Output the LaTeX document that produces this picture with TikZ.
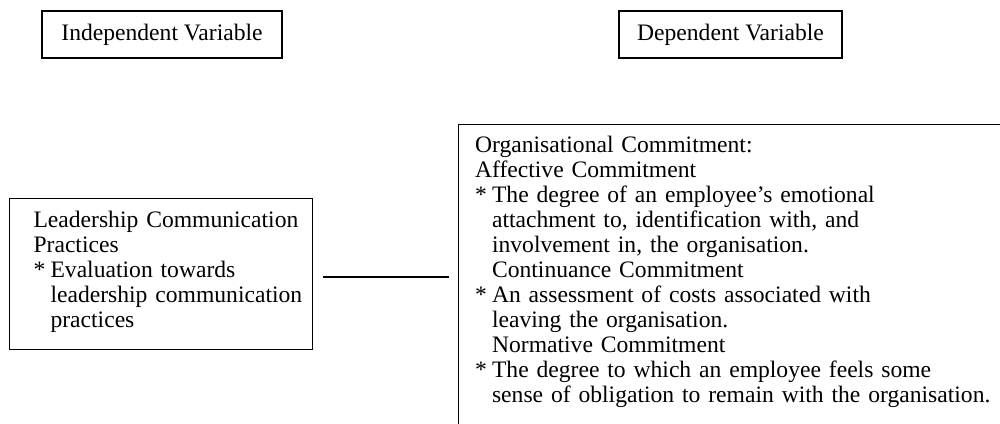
\documentclass[tikz,border=0pt]{standalone}
\usepackage{fontspec}
\setmainfont{Liberation Serif}
\newcommand{\starmark}{\makebox[17pt][l]{*}}
\newcommand{\indmark}{\hspace*{17pt}}
\begin{document}
\begin{tikzpicture}[x=1pt,y=-1pt,
  every node/.style={font=\fontsize{23.6pt}{25pt}\selectfont},
  box/.style={draw, line width=1.1pt},
  textbox/.style={box, anchor=north west, align=left, inner xsep=0pt, text height=16pt},
  link/.style={line width=2pt}]
\clip (0,0) rectangle (1000,423);
\fill[white] (0,0) rectangle (1000,423);
\node[box, minimum width=240pt, minimum height=47pt] (iv) at (162,34.5) {Independent Variable};
\node[box, minimum width=223pt, minimum height=47pt] (dvt) at (730.5,34.5) {Dependent Variable};
\node[textbox, text width=303pt, inner ysep=13pt, text depth=109pt] (lv) at (9,198)
 {\leftskip=24pt\relax Leadership Communication\\
  Practices\\
  \starmark Evaluation towards\\
  \indmark leadership communication\\
  \indmark practices\par};
\node[textbox, text width=640pt, inner ysep=12pt, text depth=310pt] (dv) at (457.5,123.5)
 {\leftskip=17pt\relax Organisational Commitment:\\
  Affective Commitment\\
  \starmark The degree of an employee's emotional\\
  \indmark attachment to, identification with, and\\
  \indmark involvement in, the organisation.\\
  \indmark Continuance Commitment\\
  \starmark An assessment of costs associated with\\
  \indmark leaving the organisation.\\
  \indmark Normative Commitment\\
  \starmark The degree to which an employee feels some\\
  \indmark sense of obligation to remain with the organisation.\par};
\draw[link, shorten <=10pt, shorten >=9pt] ([yshift=-2.5pt]lv.east) -- ([yshift=-2.5pt]lv.east -| dv.west);
\end{tikzpicture}
\end{document}
